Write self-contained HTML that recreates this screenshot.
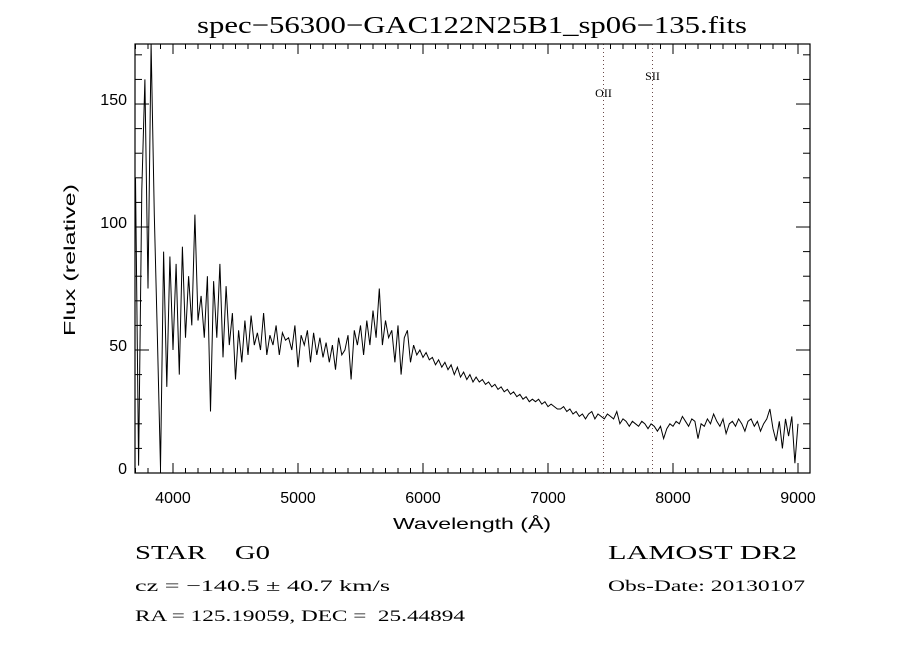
<!DOCTYPE html>
<html><head><meta charset="utf-8"><style>
html,body{margin:0;padding:0;background:#fff;}
svg{display:block;}
.s{font-family:"Liberation Serif",serif;fill:#000;}
.t{font-family:"Liberation Sans",sans-serif;fill:#000;font-size:16px;}
</style></head><body>
<svg id="chart" width="900" height="650" viewBox="0 0 900 650">
<rect width="900" height="650" fill="#fff"/>
<text class="s" x="197" y="33" font-size="24" textLength="550" lengthAdjust="spacingAndGlyphs">spec−56300−GAC122N25B1_sp06−135.fits</text>
<g id="axes"></g>
<g id="lines"></g>
<path id="spec" fill="none" stroke="#000" stroke-width="1"/>
<rect x="135" y="44" width="675" height="429" fill="none" stroke="#000" stroke-width="1.2"/>
<text class="t" x="393" y="529" font-size="17" textLength="158" lengthAdjust="spacingAndGlyphs">Wavelength (Å)</text>
<text class="t" x="0" y="0" font-size="17" textLength="152" lengthAdjust="spacingAndGlyphs" transform="translate(75 336) rotate(-90)">Flux (relative)</text>
<text class="s" x="135" y="559" font-size="20" textLength="135" lengthAdjust="spacingAndGlyphs">STAR&#160;&#160;&#160;&#160;G0</text>
<text class="s" x="135" y="591" font-size="16" textLength="255" lengthAdjust="spacingAndGlyphs">cz = −140.5 ± 40.7 km/s</text>
<text class="s" x="135" y="621" font-size="16" textLength="330" lengthAdjust="spacingAndGlyphs">RA = 125.19059, DEC =&#160;&#160;25.44894</text>
<text class="s" x="608" y="559" font-size="20" textLength="189" lengthAdjust="spacingAndGlyphs">LAMOST DR2</text>
<text class="s" x="608" y="591" font-size="16" textLength="197" lengthAdjust="spacingAndGlyphs">Obs-Date: 20130107</text>
</svg>
<script>
const startWl = 3700;
const stepWl = 25;
const flux = [120,3,115,160,75,175,105,55,2,90,35,88,50,85,40,92,55,80,60,105,62,72,55,80,25,78,55,85,47,76,52,65,38,58,45,62,48,64,52,57,50,65,48,56,52,60,48,57,54,55,50,60,43,56,52,58,45,57,48,55,47,53,45,52,42,55,48,50,56,38,58,52,60,48,62,52,66,55,75,52,62,55,58,45,60,40,55,58,45,52,48,50,47,49,46,47,44,46,43,45,42,44,40,43,39,41,38,40,37,39,37,38,36,37,35,36,34,35,33,34,32,33,31,32,30,31,29,30,29,30,28,29,27,28,27,26,26,27,25,26,24,25,23,24,22,24,25,22,24,23,22,24,23,22,25,20,22,21,19,21,20,19,21,20,18,20,19,17,19,14,18,20,19,21,20,23,21,19,22,21,14,20,19,22,20,24,21,19,22,16,20,21,19,22,20,17,21,22,19,21,17,20,22,26,18,13,21,10,22,15,23,4,20];
const xTicks = [4000,5000,6000,7000,8000,9000];
const yTicks = [0,50,100,150];
const lineNames = ["OII","SII"];
const lineWl = [7443,7835];
const X0=135,X1=810,Y0=473,Y1=44, WMIN=3696, WMAX=9096, FMIN=0, FMAX=174.4;
const xs = w => X0 + (w-WMIN)/(WMAX-WMIN)*(X1-X0);
const ys = f => Y0 - (Math.min(Math.max(f,FMIN),FMAX)-FMIN)/(FMAX-FMIN)*(Y0-Y1);
const NS="http://www.w3.org/2000/svg";
function mk(tag, parent, attrs){const e=document.createElementNS(NS,tag);for(const k in attrs)e.setAttribute(k,attrs[k]);parent.appendChild(e);return e;}
const axes=document.getElementById('axes');
for(let w=3700; w<=9000; w+=100){
  const big = w%1000===0;
  const x=xs(w), L=big?10:5;
  const a=mk('line',axes,{x1:x,x2:x,y1:Y0,y2:Y0-L,stroke:'#000'});
  
  
  const b=mk('line',axes,{x1:x,x2:x,y1:Y1,y2:Y1+L,stroke:'#000'});
  
  
}
xTicks.forEach(w=>{
  const t=mk('text',axes,{x:xs(w),y:503,'text-anchor':'middle',class:'t','font-size':'17'});
  t.textContent=w;
  
  
});
for(let f=0; f<=170; f+=10){
  const big=f%50===0, y=ys(f), L=big?14:7;
  const a=mk('line',axes,{x1:X0,x2:X0+L,y1:y,y2:y,stroke:'#000'});
  
  
  const b=mk('line',axes,{x1:X1,x2:X1-L,y1:y,y2:y,stroke:'#000'});
  
  
}
yTicks.forEach(f=>{
  const t=mk('text',axes,{x:127,y:ys(f)+1,'text-anchor':'end',class:'t','font-size':'17'});
  t.textContent=f;
  
  
});
const lg=document.getElementById('lines');
lineWl.forEach((w,i)=>{
  const x=Math.round(xs(w))+0.5;
  const l=mk('line',lg,{x1:x,x2:x,y1:Y1,y2:Y0,stroke:'#6a4a4a','stroke-dasharray':'1 3'});
  
  
  const t=mk('text',lg,{x:x,y:i===0?97:80,'text-anchor':'middle',class:'s','font-size':'12'});
  t.textContent=lineNames[i];
  
  
});
let d='';
flux.forEach((f,i)=>{const w=startWl+stepWl*i; d+=(i?'L':'M')+xs(w).toFixed(1)+' '+ys(f).toFixed(1);});
document.getElementById('spec').setAttribute('d',d);
</script>
</body></html>
